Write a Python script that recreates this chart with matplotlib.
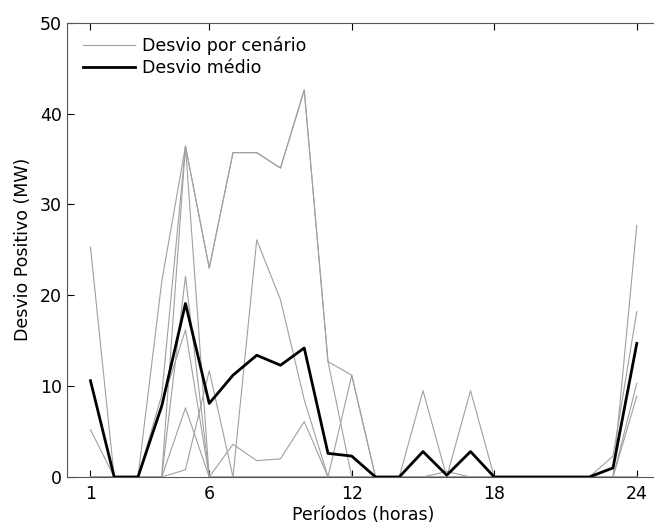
import matplotlib
matplotlib.use("Agg")
import matplotlib.pyplot as plt
import numpy as np

hours = np.arange(1, 25)

# positive deviation per scenario (MW)
scenarios = [
    [25.3, 0, 0, 21.5, 36.4, 23.0, 35.7, 35.7, 34.0, 42.6, 12.7, 11.2,
     0, 0, 9.5, 0, 9.5, 0, 0, 0, 0, 0, 0, 27.7],
    [0, 0, 0, 9.0, 36.4, 23.0, 35.7, 35.7, 34.0, 42.6, 12.7, 0,
     0, 0, 0, 0, 0, 0, 0, 0, 0, 0, 0, 0],
    [0, 0, 0, 0, 36.4, 0, 0, 26.1, 19.5, 8.5, 0, 11.2,
     0, 0, 0, 0.6, 0, 0, 0, 0, 0, 0, 2.3, 18.2],
    [5.2, 0, 0, 0, 22.1, 0, 3.6, 1.8, 2.0, 6.1, 0, 0,
     0, 0, 0, 0, 0, 0, 0, 0, 0, 0, 0, 10.3],
    [0, 0, 0, 8.0, 16.2, 0, 0, 0, 0, 0, 0, 0,
     0, 0, 0, 0, 0, 0, 0, 0, 0, 0, 0, 8.9],
    [0, 0, 0, 0, 7.6, 0, 0, 0, 0, 0, 0, 0,
     0, 0, 0, 0, 0, 0, 0, 0, 0, 0, 0, 0],
    [0, 0, 0, 0, 0.8, 11.7, 0, 0, 0, 0, 0, 0,
     0, 0, 0, 0, 0, 0, 0, 0, 0, 0, 0, 0],
]

# average deviation
mean_dev = [10.6, 0, 0, 7.8, 19.1, 8.1, 11.2, 13.4, 12.3, 14.2, 2.6, 2.3,
            0, 0, 2.8, 0.2, 2.8, 0, 0, 0, 0, 0, 1.0, 14.7]

xticks = [1, 6, 12, 18, 24]
yticks = [0, 10, 20, 30, 40, 50]

plt.rcParams["font.family"] = "DejaVu Sans"

fig = plt.figure(figsize=(6.54, 5.27), dpi=100)
ax = fig.add_axes([0.102, 0.0949, 0.908, 0.862])

for i, s in enumerate(scenarios):
    ax.plot(hours, s, color="#a0a0a0", lw=0.8,
            label="Desvio por cenário" if i == 0 else None)
ax.plot(hours, mean_dev, color="black", lw=2.0, label="Desvio médio")

ax.set_xlim(0, 25)
ax.set_ylim(0, 50)
ax.set_xticks(xticks)
ax.set_yticks(yticks)
ax.tick_params(direction="in", top=True, right=True, length=5,
               labelsize=12.5, colors="black")
ax.tick_params(axis="x", pad=6)
for sp in ax.spines.values():
    sp.set_color("#555555")
    sp.set_linewidth(0.8)

ax.set_xlabel("Períodos (horas)", fontsize=12.5, labelpad=2)
ax.set_ylabel("Desvio Positivo (MW)", fontsize=12.5, labelpad=6)

ax.legend(loc="upper left", bbox_to_anchor=(0.027, 0.97), frameon=False,
          fontsize=12.5, handlelength=3.0, handletextpad=0.4,
          labelspacing=0.25, borderpad=0, borderaxespad=0)

fig.savefig("out.png", dpi=100)
